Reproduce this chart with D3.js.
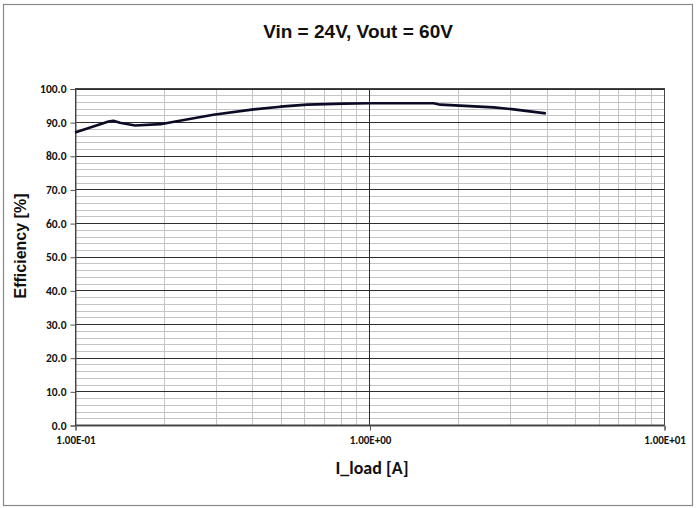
<!DOCTYPE html>
<html><head><meta charset="utf-8">
<script src="https://cdn.jsdelivr.net/npm/d3@7"></script>
<style>body{margin:0;background:#fff;} svg{display:block;}</style>
</head><body>
<script>
const title = "Vin = 24V, Vout = 60V";
const xLabel = "I_load [A]";
const yLabel = "Efficiency [%]";
const loadCurrent = [0.100, 0.130, 0.135, 0.142, 0.160, 0.195, 0.210, 0.295, 0.404, 0.498, 0.614, 0.816, 1.00, 1.65, 1.74, 2.64, 3.09, 3.97];
const efficiency  = [86.9, 90.2, 90.4, 89.8, 89.0, 89.4, 89.9, 92.2, 93.8, 94.6, 95.2, 95.5, 95.6, 95.6, 95.2, 94.4, 93.8, 92.6];
const xTicks = [0.1, 1, 10];
const xTickLabels = ["1.00E-01", "1.00E+00", "1.00E+01"];
const yTicks = [0,10,20,30,40,50,60,70,80,90,100];

const W = 700, H = 508;
const svg = d3.select("body").append("svg").attr("width", W).attr("height", H);
svg.append("rect").attr("x",0).attr("y",0).attr("width",W).attr("height",H).attr("fill","#fff");
svg.append("rect").attr("x",3.5).attr("y",4.5).attr("width",689).attr("height",501)
  .attr("fill","none").attr("stroke","#8a8a8a").attr("stroke-width",1.2);

const L = 75, R = 664, T = 88.5, B = 425;
const x = d3.scaleLog().domain([0.1, 10]).range([L, R]);
const y = d3.scaleLinear().domain([0, 100]).range([B, T]);

// minor gridlines
const minorX = [];
[0.1, 1].forEach(d => { for (let k = 2; k <= 9; k++) minorX.push(d * k); });
const minorY = d3.range(0, 101, 2).filter(v => v % 10 !== 0);
const g = svg.append("g");
g.selectAll(".mx").data(minorX).enter().append("line")
  .attr("x1", d => Math.round(x(d))+0.5).attr("x2", d => Math.round(x(d))+0.5).attr("y1", T).attr("y2", B)
  .attr("stroke", "#c4c4c4").attr("stroke-width", 1);
g.selectAll(".my").data(minorY).enter().append("line")
  .attr("x1", L).attr("x2", R).attr("y1", d => Math.round(y(d))+0.5).attr("y2", d => Math.round(y(d))+0.5)
  .attr("stroke", "#c4c4c4").attr("stroke-width", 1);
// major gridlines
g.selectAll(".My").data(yTicks).enter().append("line")
  .attr("x1", L).attr("x2", R).attr("y1", d => Math.round(y(d))+0.5).attr("y2", d => Math.round(y(d))+0.5)
  .attr("stroke", "#2e2e2e").attr("stroke-width", 1);
g.selectAll(".Mx").data(xTicks).enter().append("line")
  .attr("x1", d => Math.round(x(d))+0.5).attr("x2", d => Math.round(x(d))+0.5).attr("y1", T).attr("y2", B)
  .attr("stroke", "#2e2e2e").attr("stroke-width", 1);

// axes
const yAxis = d3.axisLeft(y).tickValues(yTicks).tickFormat(d3.format(".1f")).tickSize(5).tickPadding(4);
const yg = svg.append("g").attr("transform", `translate(${L+0.5},0.5)`).call(yAxis);
yg.select(".domain").attr("stroke", "#555");
yg.selectAll("line").attr("stroke", "#555");
yg.selectAll("text").attr("font-family", "Carlito, 'Liberation Sans Narrow', 'Open Sans', sans-serif")
  .attr("font-size", 11.5).attr("font-weight", "bold").attr("fill", "#111");

const xAxis = d3.axisBottom(x).tickValues(xTicks).tickFormat((d, i) => xTickLabels[i]).tickSize(5).tickPadding(6);
const xg = svg.append("g").attr("transform", `translate(0.5,${B+0.5})`).call(xAxis);
xg.select(".domain").attr("stroke", "#555");
xg.selectAll("line").attr("stroke", "#555");
xg.selectAll("text").attr("font-family", "Carlito, 'Liberation Sans Narrow', 'Open Sans', sans-serif")
  .attr("font-size", 11).attr("font-weight", "bold").attr("fill", "#111");

// plot border
svg.append("rect").attr("x", L+0.5).attr("y", T).attr("width", R-L).attr("height", B-T)
  .attr("fill", "none").attr("stroke", "#444").attr("stroke-width", 1);

// curve
const data = loadCurrent.map((d, i) => ({x: d, y: efficiency[i]}));
const line = d3.line().x(d => x(d.x)).y(d => y(d.y)).curve(d3.curveLinear);
svg.append("path").datum(data).attr("d", line).attr("fill", "none")
  .attr("stroke", "#0b0b26").attr("stroke-width", 2.6).attr("stroke-linejoin", "round");

// titles
svg.append("text").attr("x", 358).attr("y", 38).attr("text-anchor", "middle")
  .attr("font-family", "'Liberation Sans', Arial, sans-serif").attr("font-weight", "bold")
  .attr("font-size", 19).attr("fill", "#111").text(title);
svg.append("text").attr("x", 372).attr("y", 474).attr("text-anchor", "middle")
  .attr("font-family", "Carlito, 'Liberation Sans Narrow', 'Open Sans', sans-serif").attr("font-weight", "bold")
  .attr("font-size", 18).attr("fill", "#111").text(xLabel);
svg.append("text").attr("transform", "translate(26,246) rotate(-90)").attr("text-anchor", "middle")
  .attr("font-family", "'Liberation Sans', Arial, sans-serif").attr("font-weight", "bold")
  .attr("font-size", 16).attr("fill", "#111").text(yLabel);
</script>
</body></html>
